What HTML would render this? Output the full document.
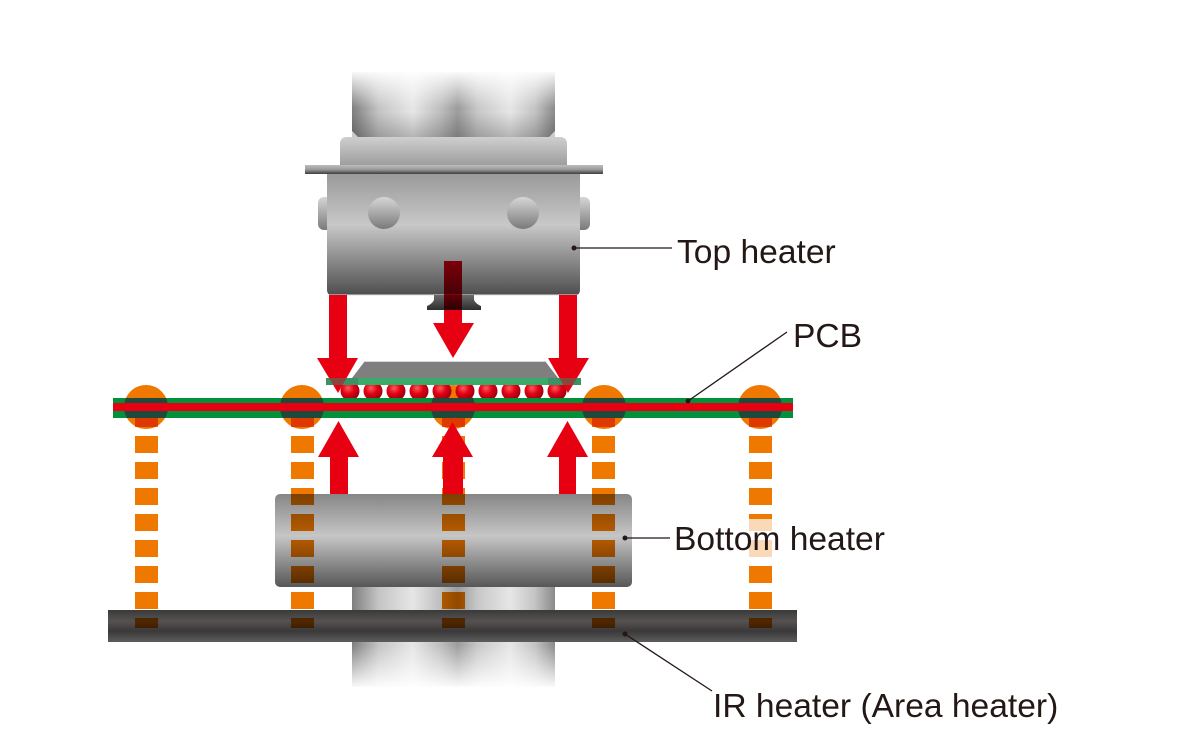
<!DOCTYPE html>
<html><head><meta charset="utf-8"><style>
html,body{margin:0;padding:0;background:#fff;}
svg{display:block;}
text{font-family:"Liberation Sans",Arial,sans-serif;font-size:33.6px;fill:#231815;}
.mul{mix-blend-mode:multiply;}
</style></head><body>
<svg width="1187" height="729" viewBox="0 0 1187 729" xmlns="http://www.w3.org/2000/svg">
<defs>
  <linearGradient id="colH" x1="0" x2="1" y1="0" y2="0">
    <stop offset="0" stop-color="#7e7e7e"/>
    <stop offset="0.13" stop-color="#c4c4c4"/>
    <stop offset="0.3" stop-color="#e6e6e6"/>
    <stop offset="0.44" stop-color="#bdbdbd"/>
    <stop offset="0.52" stop-color="#9c9c9c"/>
    <stop offset="0.62" stop-color="#c8c8c8"/>
    <stop offset="0.78" stop-color="#e6e6e6"/>
    <stop offset="0.9" stop-color="#c4c4c4"/>
    <stop offset="1" stop-color="#8a8a8a"/>
  </linearGradient>
  <linearGradient id="fadeTop" x1="0" x2="0" y1="0" y2="1">
    <stop offset="0" stop-color="#fff" stop-opacity="1"/>
    <stop offset="1" stop-color="#fff" stop-opacity="0"/>
  </linearGradient>
  <linearGradient id="fadeBot" x1="0" x2="0" y1="0" y2="1">
    <stop offset="0" stop-color="#fff" stop-opacity="0"/>
    <stop offset="1" stop-color="#fff" stop-opacity="1"/>
  </linearGradient>
  <linearGradient id="darkBot" x1="0" x2="0" y1="0" y2="1">
    <stop offset="0" stop-color="#000" stop-opacity="0"/>
    <stop offset="1" stop-color="#000" stop-opacity="0.22"/>
  </linearGradient>
  <linearGradient id="collar" x1="0" x2="0" y1="0" y2="1">
    <stop offset="0" stop-color="#cfcfcf"/>
    <stop offset="1" stop-color="#9e9e9e"/>
  </linearGradient>
  <linearGradient id="flange" x1="0" x2="0" y1="0" y2="1">
    <stop offset="0" stop-color="#bdbdbd"/>
    <stop offset="0.5" stop-color="#9a9a9a"/>
    <stop offset="1" stop-color="#3e3e3e"/>
  </linearGradient>
  <linearGradient id="body" x1="0" x2="0" y1="0" y2="1">
    <stop offset="0" stop-color="#9a9a9a"/>
    <stop offset="0.42" stop-color="#c8c8c8"/>
    <stop offset="1" stop-color="#4e4e4e"/>
  </linearGradient>
  <linearGradient id="boss" x1="0" x2="0" y1="0" y2="1">
    <stop offset="0" stop-color="#d6d6d6"/>
    <stop offset="1" stop-color="#7a7a7a"/>
  </linearGradient>
  <linearGradient id="nozzle" x1="0" x2="0" y1="0" y2="1">
    <stop offset="0" stop-color="#6a6a6a"/>
    <stop offset="1" stop-color="#2e2e2e"/>
  </linearGradient>
  <linearGradient id="bheat" x1="0" x2="0" y1="0" y2="1">
    <stop offset="0" stop-color="#868686"/>
    <stop offset="0.45" stop-color="#c6c6c6"/>
    <stop offset="1" stop-color="#575757"/>
  </linearGradient>
  <linearGradient id="ir" x1="0" x2="0" y1="0" y2="1">
    <stop offset="0" stop-color="#3a3a3a"/>
    <stop offset="0.35" stop-color="#575252"/>
    <stop offset="0.65" stop-color="#3a3838"/>
    <stop offset="1" stop-color="#5c5c5c"/>
  </linearGradient>
  <radialGradient id="ball" cx="0.4" cy="0.35" r="0.65">
    <stop offset="0" stop-color="#ff5a5a"/>
    <stop offset="0.5" stop-color="#e10014"/>
    <stop offset="1" stop-color="#9a0010"/>
  </radialGradient>
  <clipPath id="pcbGreen"><rect x="113" y="398" width="680" height="20"/></clipPath>
  <clipPath id="ballClip"><rect x="320" y="385" width="270" height="13"/></clipPath>
</defs>

<!-- Upper column -->
<path d="M352,72 L555,72 L555,131 L549,137 L358,137 L352,131 Z" fill="url(#colH)"/>
<rect x="352" y="112" width="203" height="26" fill="url(#darkBot)"/>
<rect x="350" y="70" width="207" height="38" fill="url(#fadeTop)"/>

<!-- Collar -->
<path d="M340,165 L340,144 Q340,137 347,137 L560,137 Q567,137 567,144 L567,165 Z" fill="url(#collar)"/>

<!-- Side bumps -->
<rect x="318" y="197" width="16" height="33" rx="6" fill="url(#boss)"/>
<rect x="574" y="197" width="16" height="33" rx="6" fill="url(#boss)"/>

<!-- Body -->
<path d="M327,174 L580,174 L580,290 Q580,295 575,295 L332,295 Q327,295 327,290 Z" fill="url(#body)"/>
<line x1="330" y1="295" x2="577" y2="295" stroke="#e0e0e0" stroke-width="1"/>
<!-- Flange -->
<rect x="305" y="165" width="298" height="9" fill="url(#flange)"/>
<!-- Bosses -->
<circle cx="384" cy="213" r="16" fill="url(#boss)"/>
<circle cx="523" cy="213" r="16" fill="url(#boss)"/>

<!-- Nozzle -->
<path d="M434,295 L474,295 L474,300 Q476,304 481,306 L481,310 L427,310 L427,306 Q432,304 434,300 Z" fill="url(#nozzle)"/>

<!-- Lower column -->
<rect x="352" y="587" width="203" height="100" fill="url(#colH)"/>
<rect x="350" y="645" width="207" height="44" fill="url(#fadeBot)"/>

<!-- Bottom heater -->
<rect x="275" y="494" width="357" height="93" rx="5" fill="url(#bheat)"/>

<!-- IR heater bar -->
<rect x="108" y="610" width="689" height="32" fill="url(#ir)"/>

<!-- Orange circles -->
<g fill="#ee7800">
  <circle cx="146" cy="407" r="22"/>
  <circle cx="302" cy="407" r="22"/>
  <circle cx="453" cy="407" r="22"/>
  <circle cx="604" cy="407" r="22"/>
  <circle cx="760" cy="407" r="22"/>
</g>

<!-- Dashes (multiply) -->
<g fill="#ee7800" class="mul">
  <g id="dcol">
    <rect x="135" y="410" width="23" height="17"/>
    <rect x="135" y="436" width="23" height="17"/>
    <rect x="135" y="462" width="23" height="17"/>
    <rect x="135" y="488" width="23" height="17"/>
    <rect x="135" y="514" width="23" height="17"/>
    <rect x="135" y="540" width="23" height="17"/>
    <rect x="135" y="566" width="23" height="17"/>
    <rect x="135" y="592" width="23" height="17"/>
    <rect x="135" y="618" width="23" height="10"/>
  </g>
  <use href="#dcol" x="156"/>
  <use href="#dcol" x="307"/>
  <use href="#dcol" x="457"/>
  <use href="#dcol" x="614"/>
</g>
<!-- label background over right dash -->
<rect x="748" y="519" width="26" height="38" fill="#fff" fill-opacity="0.72"/>

<!-- Solder balls -->
<g clip-path="url(#ballClip)" fill="url(#ball)">
  <circle cx="350" cy="391" r="9.5"/>
  <circle cx="373" cy="391" r="9.5"/>
  <circle cx="396" cy="391" r="9.5"/>
  <circle cx="419" cy="391" r="9.5"/>
  <circle cx="442" cy="391" r="9.5"/>
  <circle cx="465" cy="391" r="9.5"/>
  <circle cx="488" cy="391" r="9.5"/>
  <circle cx="511" cy="391" r="9.5"/>
  <circle cx="534" cy="391" r="9.5"/>
  <circle cx="557" cy="391" r="9.5"/>
</g>

<!-- PCB -->
<rect x="113" y="398" width="680" height="20" fill="#00913a"/>
<g clip-path="url(#pcbGreen)" fill="#1e4a3b">
  <circle cx="146" cy="407" r="22"/>
  <circle cx="302" cy="407" r="22"/>
  <circle cx="453" cy="407" r="22"/>
  <circle cx="604" cy="407" r="22"/>
  <circle cx="760" cy="407" r="22"/>
</g>
<rect x="113" y="403" width="680" height="8" fill="#e60012"/>

<!-- Chip -->
<path d="M365,361 L545,361 L558,378 L352,378 Z" fill="#7f7f7f"/>
<line x1="365" y1="361.5" x2="545" y2="361.5" stroke="#d8d8d8" stroke-width="1"/>
<!-- Substrate -->
<rect x="326" y="378" width="255" height="7" fill="#3aaa6a"/>

<!-- Down arrows -->
<g fill="#e60012">
  <path d="M329,295 L347,295 L347,358 L358,358 L338,393 L317,358 L329,358 Z"/>
  <path d="M559,295 L577,295 L577,358 L589,358 L568,393 L548,358 L559,358 Z"/>
  <path d="M444,310 L462,310 L462,323 L474,323 L453,358 L433,323 L444,323 Z"/>
</g>
<rect x="444" y="261" width="18" height="49" fill="#e60012" class="mul"/>
<!-- substrate tint over arrow tips -->
<rect x="326" y="378" width="32" height="7" fill="#3a8060" fill-opacity="0.55"/>
<rect x="548" y="378" width="33" height="7" fill="#3a8060" fill-opacity="0.55"/>

<!-- Up arrows -->
<g fill="#e60012">
  <path d="M330,494 L348,494 L348,457 L359,457 L338.5,421 L318,457 L330,457 Z"/>
  <path d="M443,494 L463,494 L463,457 L473,457 L452.5,422 L432,457 L443,457 Z"/>
  <path d="M559,494 L576,494 L576,457 L588,457 L567.5,421 L547,457 L559,457 Z"/>
</g>

<!-- Leader lines -->
<g stroke="#231815" stroke-width="1.3" fill="none">
  <line x1="574" y1="248" x2="672" y2="248"/>
  <line x1="688" y1="401" x2="787" y2="332"/>
  <line x1="625" y1="538" x2="670" y2="538"/>
  <line x1="625" y1="634" x2="712" y2="691"/>
</g>
<g fill="#231815">
  <circle cx="574" cy="248" r="2.5"/>
  <circle cx="688" cy="401" r="2.5"/>
  <circle cx="625" cy="538" r="2.5"/>
  <circle cx="625" cy="634" r="2.5"/>
</g>

<!-- Labels -->
<text x="677" y="263">Top heater</text>
<text x="793" y="347">PCB</text>
<text x="674" y="550">Bottom heater</text>
<text x="713" y="717">IR heater (Area heater)</text>
</svg>
</body></html>
